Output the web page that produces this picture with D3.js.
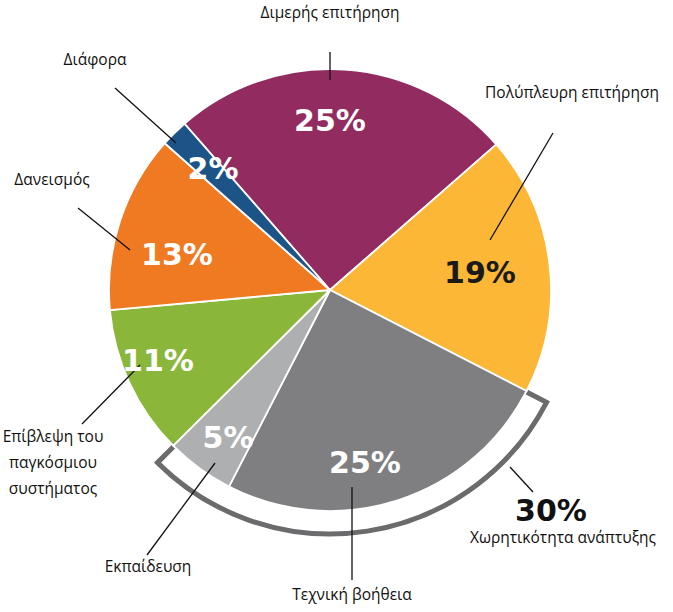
<!DOCTYPE html>
<html>
<head>
<meta charset="utf-8">
<script src="https://cdn.jsdelivr.net/npm/d3@7"></script>
<style>
  body { margin: 0; background: #fff; }
  .lbl { font-family: "Open Sans", sans-serif; font-size: 15.5px; fill: #111; }
  .pct { font-family: "DejaVu Sans", sans-serif; font-weight: bold; font-size: 30px; }
</style>
</head>
<body>
<div id="chart"></div>
<script>
// data
var categories = ["Διμερής επιτήρηση", "Πολύπλευρη επιτήρηση", "Τεχνική βοήθεια", "Εκπαίδευση",
                  "Επίβλεψη του παγκόσμιου συστήματος", "Δανεισμός", "Διάφορα"];
var values = [25, 19, 25, 5, 11, 13, 2];
var colors = ["#922b5f", "#fbb735", "#7f7f81", "#aeafb1", "#8ab73a", "#f07a22", "#1c5488"];
var groupLabel = "Χωρητικότητα ανάπτυξης";
var groupMembers = ["Τεχνική βοήθεια", "Εκπαίδευση"];

var width = 673, height = 612;
var cx = 330, cy = 290, radius = 221;
var start = -41.2 * Math.PI / 180;

// label layout (offsets relative to pie center)
var labelLayout = [
  { lines: ["Διμερής επιτήρηση"], x: 0, y: -272, anchor: [0, -210], tip: [0, -238], pct: [0, -170], pctColor: "#fff" },
  { lines: ["Πολύπλευρη επιτήρηση"], x: 242, y: -192, anchor: [160, -50], tip: [223, -157], pct: [150, -18], pctColor: "#1a1a1a" },
  { lines: ["Τεχνική βοήθεια"], x: 22, y: 310, anchor: [22, 197], tip: [22, 290], pct: [35, 172], pctColor: "#fff" },
  { lines: ["Εκπαίδευση"], x: -182, y: 282, anchor: [-115, 173], tip: [-183, 265], pct: [-102, 147], pctColor: "#fff" },
  { lines: ["Επίβλεψη του", "παγκόσμιου", "συστήματος"], x: -277, y: 152, anchor: [-190, 75], tip: [-248, 134], pct: [-172, 70], pctColor: "#fff" },
  { lines: ["Δανεισμός"], x: -278, y: -105, anchor: [-200, -40], tip: [-252, -82], pct: [-153, -36], pctColor: "#fff" },
  { lines: ["Διάφορα"], x: -235, y: -225, anchor: [-154, -147], tip: [-215, -202], pct: [-117, -122], pctColor: "#fff" }
];

var svg = d3.select("#chart").append("svg")
    .attr("width", width)
    .attr("height", height);

var g = svg.append("g")
    .attr("transform", "translate(" + cx + "," + cy + ")");

var pie = d3.pie()
    .sort(null)
    .startAngle(start)
    .endAngle(start + 2 * Math.PI)
    .value(function (d) { return d; });

var arcs = pie(values);

var arc = d3.arc()
    .innerRadius(0)
    .outerRadius(radius);

// bracket round the grouped slices, drawn first so the pie covers its inner edge
var members = arcs.filter(function (d, i) { return groupMembers.indexOf(categories[i]) >= 0; });
var bStart = d3.min(members, function (d) { return d.startAngle; });
var bEnd = d3.max(members, function (d) { return d.endAngle; });
var bracket = d3.arc()
    .innerRadius(radius - 4)
    .outerRadius(radius + 23)
    .startAngle(bStart + 0.004)
    .endAngle(bEnd - 0.004);

g.append("path")
    .attr("d", bracket())
    .attr("fill", "#fff")
    .attr("stroke", "#6b6b6d")
    .attr("stroke-width", 5)
    .attr("stroke-linejoin", "miter");

g.selectAll("path.slice")
    .data(arcs)
    .enter().append("path")
    .attr("class", "slice")
    .attr("d", arc)
    .attr("fill", function (d, i) { return colors[i]; })
    .attr("stroke", "#fff")
    .attr("stroke-width", 1.8);

// leader lines
g.selectAll("line.leader")
    .data(labelLayout)
    .enter().append("line")
    .attr("x1", function (d) { return d.anchor[0]; })
    .attr("y1", function (d) { return d.anchor[1]; })
    .attr("x2", function (d) { return d.tip[0]; })
    .attr("y2", function (d) { return d.tip[1]; })
    .attr("stroke", "#111")
    .attr("stroke-width", 1.3);

// category labels
labelLayout.forEach(function (d, i) {
  var t = g.append("text")
      .attr("class", "lbl")
      .attr("text-anchor", "middle")
      .attr("x", d.x)
      .attr("y", d.y);
  d.lines.forEach(function (line, j) {
    t.append("tspan")
        .attr("x", d.x)
        .attr("dy", j === 0 ? 0 : 26)
        .text(line);
  });
});

// percent labels
g.selectAll("text.pct")
    .data(arcs)
    .enter().append("text")
    .attr("class", "pct")
    .attr("text-anchor", "middle")
    .attr("dy", "0.36em")
    .attr("x", function (d, i) { return labelLayout[i].pct[0]; })
    .attr("y", function (d, i) { return labelLayout[i].pct[1]; })
    .attr("fill", function (d, i) { return labelLayout[i].pctColor; })
    .text(function (d) { return d.data + "%"; });

// group total
var groupTotal = d3.sum(members, function (d) { return d.data; });
g.append("line")
    .attr("x1", 180).attr("y1", 177)
    .attr("x2", 203).attr("y2", 202)
    .attr("stroke", "#111")
    .attr("stroke-width", 1.3);

g.append("text")
    .attr("class", "pct")
    .attr("text-anchor", "middle")
    .attr("x", 221).attr("y", 220)
    .attr("dy", "0.36em")
    .attr("fill", "#111")
    .text(groupTotal + "%");

g.append("text")
    .attr("class", "lbl")
    .attr("text-anchor", "middle")
    .attr("x", 233).attr("y", 253)
    .text(groupLabel);
</script>
</body>
</html>
